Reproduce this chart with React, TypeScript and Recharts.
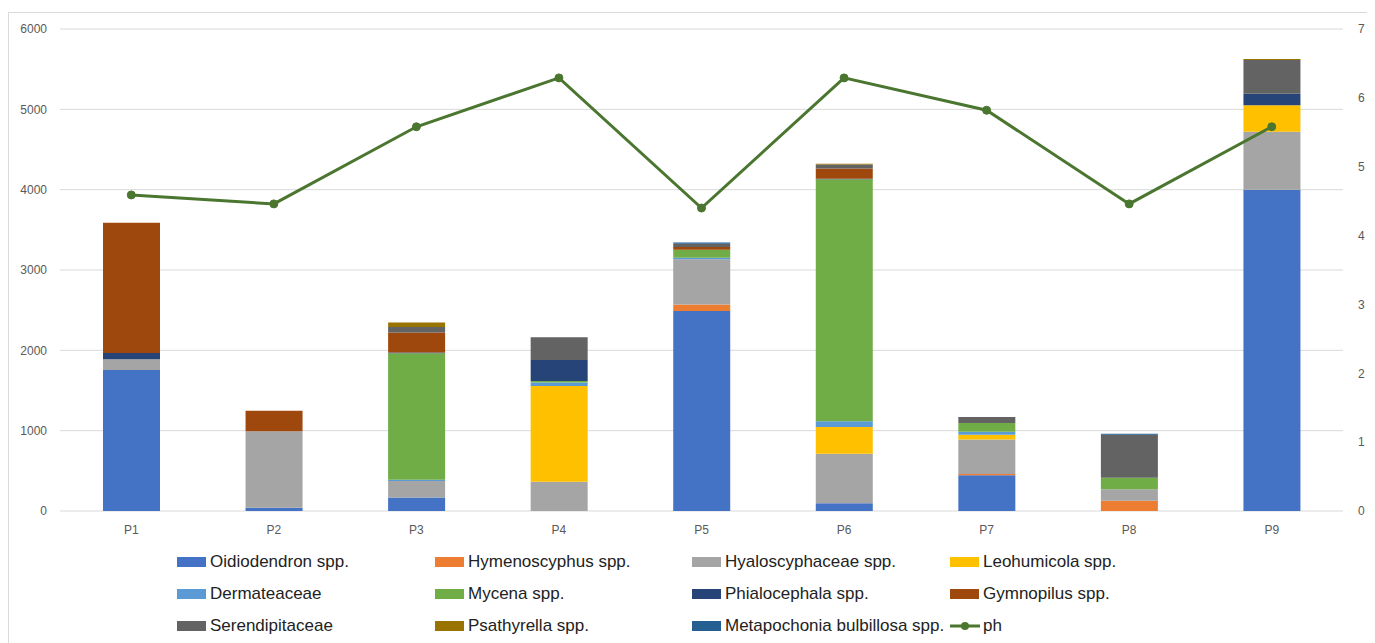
import React from "react";
import { ComposedChart, Bar, Line, XAxis, YAxis, CartesianGrid, Legend } from "recharts";

const categories = ["P1", "P2", "P3", "P4", "P5", "P6", "P7", "P8", "P9"];
const oidiodendron = [1756, 40, 167, 0, 2491, 96, 445, 0, 4000];
const hymenoscyphus = [0, 0, 0, 0, 78, 0, 15, 128, 0];
const hyaloscyphaceae = [134, 953, 207, 365, 565, 618, 430, 142, 720];
const leohumicola = [0, 0, 0, 1192, 0, 332, 58, 0, 332];
const dermateaceae = [0, 0, 15, 42, 17, 71, 38, 0, 0];
const mycena = [0, 0, 1575, 20, 100, 3014, 108, 145, 0];
const phialocephala = [78, 0, 8, 260, 0, 5, 0, 0, 141];
const gymnopilus = [1620, 256, 249, 0, 34, 128, 0, 0, 0];
const serendipitaceae = [0, 0, 70, 283, 41, 50, 75, 535, 421];
const psathyrella = [0, 0, 55, 0, 0, 10, 0, 0, 12];
const metapochonia = [0, 0, 0, 0, 15, 0, 0, 12, 0];
const ph = [4.59, 4.46, 5.58, 6.29, 4.4, 6.29, 5.82, 4.46, 5.58];

const leftTicks = [0, 1000, 2000, 3000, 4000, 5000, 6000];
const rightTicks = [0, 1, 2, 3, 4, 5, 6, 7];

const series = [
  { key: "oidiodendron", name: "Oidiodendron spp.", values: oidiodendron, color: "#4472C4" },
  { key: "hymenoscyphus", name: "Hymenoscyphus spp.", values: hymenoscyphus, color: "#ED7D31" },
  { key: "hyaloscyphaceae", name: "Hyaloscyphaceae spp.", values: hyaloscyphaceae, color: "#A5A5A5" },
  { key: "leohumicola", name: "Leohumicola spp.", values: leohumicola, color: "#FFC000" },
  { key: "dermateaceae", name: "Dermateaceae", values: dermateaceae, color: "#5B9BD5" },
  { key: "mycena", name: "Mycena spp.", values: mycena, color: "#70AD47" },
  { key: "phialocephala", name: "Phialocephala spp.", values: phialocephala, color: "#264478" },
  { key: "gymnopilus", name: "Gymnopilus spp.", values: gymnopilus, color: "#9E480E" },
  { key: "serendipitaceae", name: "Serendipitaceae", values: serendipitaceae, color: "#636363" },
  { key: "psathyrella", name: "Psathyrella spp.", values: psathyrella, color: "#997300" },
  { key: "metapochonia", name: "Metapochonia bulbillosa spp.", values: metapochonia, color: "#255E91" },
];

const PH_COLOR = "#4B7630";

const data = categories.map((c, i) => {
  const row: Record<string, any> = { name: c, ph: ph[i] };
  series.forEach((s) => {
    row[s.key] = s.values[i];
  });
  return row;
});

const FONT = "'Liberation Sans', Arial, sans-serif";
const colX = [168, 426, 683, 941];
const rowY = [27, 59, 91];

const LegendContent = () => {
  const items = [
    ...series.map((s) => ({ name: s.name, color: s.color, line: false })),
    { name: "ph", color: PH_COLOR, line: true },
  ];
  return (
    <div style={{ position: "relative", width: 1360, height: 116, fontFamily: FONT, fontSize: 17, color: "#222222" }}>
      {items.map((it, idx) => {
        const col = idx % 4;
        const row = Math.floor(idx / 4);
        const x = colX[col];
        const y = rowY[row];
        return (
          <div key={it.name} style={{ position: "absolute", left: x, top: y - 11, height: 22, display: "flex", alignItems: "center", whiteSpace: "nowrap" }}>
            {it.line ? (
              <svg width={30} height={12} style={{ marginRight: 3 }}>
                <line x1={0} y1={6} x2={30} y2={6} stroke={it.color} strokeWidth={3} />
                <circle cx={15} cy={6} r={4} fill={it.color} />
              </svg>
            ) : (
              <div style={{ width: 29, height: 10, background: it.color, marginRight: 4 }} />
            )}
            <span>{it.name}</span>
          </div>
        );
      })}
    </div>
  );
};

export default function App() {
  return (
    <div style={{ marginTop: 4, width: 1362, height: 640, border: "1px solid #d9d9d9", boxSizing: "border-box", background: "#fff" }}>
      <ComposedChart
        width={1360}
        height={638}
        data={data}
        margin={{ top: 16, right: 0, bottom: 0, left: 0 }}
        style={{ fontFamily: FONT }}
      >
        <CartesianGrid vertical={false} stroke="#d9d9d9" strokeWidth={1} yAxisId="left" />
        <XAxis
          dataKey="name"
          height={24}
          axisLine={false}
          tickLine={false}
          tickMargin={8}
          tick={{ fontSize: 12, fill: "#595959", fontFamily: FONT }}
        />
        <YAxis
          yAxisId="left"
          orientation="left"
          width={51}
          domain={[0, 6000]}
          ticks={leftTicks}
          axisLine={false}
          tickLine={false}
          tickMargin={7}
          tick={{ fontSize: 12, fill: "#595959", fontFamily: FONT }}
        />
        <YAxis
          yAxisId="right"
          orientation="right"
          width={26}
          domain={[0, 7]}
          ticks={rightTicks}
          axisLine={false}
          tickLine={false}
          tickMargin={9}
          tick={{ fontSize: 12, fill: "#595959", fontFamily: FONT }}
        />
        {series.map((s) => (
          <Bar
            key={s.key}
            yAxisId="left"
            dataKey={s.key}
            name={s.name}
            stackId="a"
            fill={s.color}
            barSize={57}
            isAnimationActive={false}
          />
        ))}
        <Line
          yAxisId="right"
          dataKey="ph"
          name="ph"
          stroke={PH_COLOR}
          strokeWidth={3}
          dot={{ r: 4, fill: PH_COLOR, stroke: PH_COLOR, strokeWidth: 1 }}
          isAnimationActive={false}
        />
        <Legend
          verticalAlign="bottom"
          align="left"
          content={<LegendContent />}
          wrapperStyle={{ left: 0, width: 1360, height: 116 }}
        />
      </ComposedChart>
    </div>
  );
}
